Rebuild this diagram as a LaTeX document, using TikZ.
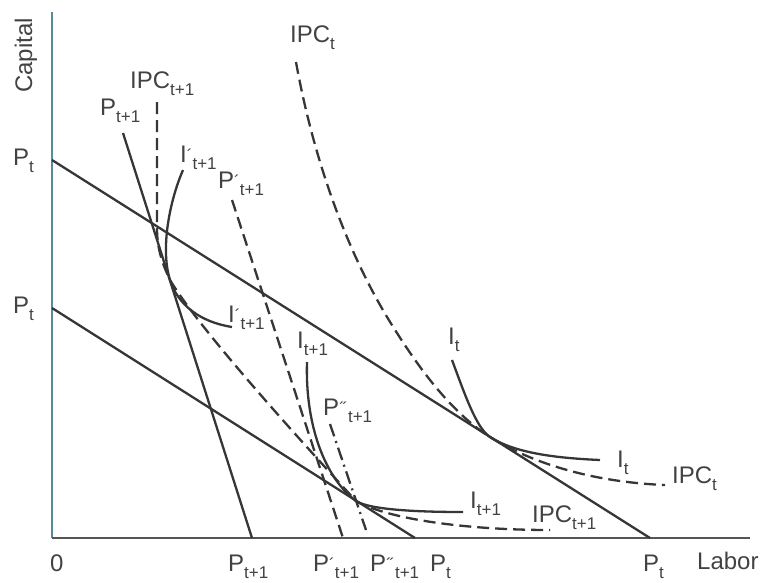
\documentclass[tikz,border=0pt]{standalone}
\usepackage{fontspec}
\setmainfont{Liberation Sans}
\definecolor{ink}{HTML}{363636}
\definecolor{txt}{HTML}{424242}
\definecolor{axisv}{HTML}{5A8C96}
\definecolor{axish}{HTML}{555555}
\newcommand{\mysub}[1]{\raisebox{-7pt}{\fontsize{17}{17}\selectfont #1}}
\newcommand{\myprime}[1]{\raisebox{8pt}{#1}}
\newcommand{\acu}{\char"00B4}
\newcommand{\dacu}{\char"00B4\kern-2.5pt\char"00B4}
\begin{document}
\begin{tikzpicture}[x=1pt,y=-1pt,
  ln/.style={draw=ink, line width=2.3pt},
  dsh/.style={ln, dash pattern=on 12pt off 6pt},
  ddot/.style={ln, dash pattern=on 13pt off 5pt on 2pt off 5pt},
  ax/.style={line width=1.6pt},
  lbl/.style={anchor=base west, inner sep=0pt, text=txt, font=\fontsize{24}{24}\selectfont}]
\useasboundingbox (0,0) rectangle (763,582);
% axes
\coordinate (O) at (52,538);
\coordinate (Ytop) at (52,12);
\coordinate (Xend) at (750,538);
\draw[ax, draw=axisv] (O) -- (Ytop);
\draw[ax, draw=axish] (O) -- (Xend);
% budget lines
\coordinate (A1) at (52,160);
\coordinate (A2) at (650,538);
\coordinate (B1) at (52,308);
\coordinate (B2) at (415,538);
\coordinate (C1) at (123,133);
\coordinate (C2) at (252,538);
\coordinate (D1) at (232,200);
\coordinate (D2) at (343,538);
\coordinate (E1) at (330,424);
\coordinate (E2) at (366,530);
\draw[ln] (A1) -- (A2);
\draw[ln] (B1) -- (B2);
\draw[ln] (C1) -- (C2);
\draw[dsh] (D1) -- (D2);
\draw[ddot] (E1) -- (E2);
% tangency points
\coordinate (T1) at (490,437);
\coordinate (T2) at (356,501);
\coordinate (T3) at (170,280);
% isoquants
\draw[ln] (452,360) .. controls (464,392) and (476,428) .. (T1)
  .. controls (515,453) and (555,458) .. (600,460);
\draw[ln] (307,362) .. controls (305,425) and (325,478) .. (T2)
  .. controls (370,510) and (420,512) .. (463,512);
\draw[ln] (183,170) .. controls (170,200) and (160,248) .. (T3)
  .. controls (178,305) and (200,322) .. (232,327);
% IPC paths
\draw[dsh] (296,62) .. controls (310,140) and (340,245) .. (397,333)
  .. controls (430,385) and (460,418) .. (T1)
  .. controls (530,462) and (590,482) .. (665,485);
\draw[dsh] (157,102) -- (157,228) .. controls (157,250) and (163,265) .. (T3)
  .. controls (200,330) and (300,440) .. (T2)
  .. controls (390,520) and (470,530) .. (550,530);
% labels
\node[lbl, rotate=90] (cap) at (32,93) {Capital};
\node[lbl] (lab) at (697,569) {Labor};
\node[lbl] (zero) at (50,571) {0};
\node[lbl] (ptl1) at (13,165) {P\mysub{t}};
\node[lbl] (ptl2) at (13,313) {P\mysub{t}};
\node[lbl] (ipct1) at (130,88) {IPC\mysub{t+1}};
\node[lbl] (pt1a) at (100,115) {P\mysub{t+1}};
\node[lbl] (ip1a) at (180,162) {I\mysub{\myprime{\acu}t+1}};
\node[lbl] (pp1a) at (218,188) {P\mysub{\myprime{\acu}t+1}};
\node[lbl] (ipcta) at (290,42) {IPC\mysub{t}};
\node[lbl] (ip1b) at (228,322) {I\mysub{\myprime{\acu}t+1}};
\node[lbl] (i1a) at (297,348) {I\mysub{t+1}};
\node[lbl] (ppp1a) at (323,415) {P\mysub{\myprime{\dacu}t+1}};
\node[lbl] (ita) at (448,344) {I\mysub{t}};
\node[lbl] (itb) at (617,467) {I\mysub{t}};
\node[lbl] (ipctb) at (672,483) {IPC\mysub{t}};
\node[lbl] (i1b) at (470,508) {I\mysub{t+1}};
\node[lbl] (ipct1b) at (532,522) {IPC\mysub{t+1}};
\node[lbl] (pt1b) at (228,571) {P\mysub{t+1}};
\node[lbl] (pp1b) at (313,571) {P\mysub{\myprime{\acu}t+1}};
\node[lbl] (ppp1b) at (370,571) {P\mysub{\myprime{\dacu}t+1}};
\node[lbl] (ptb) at (430,571) {P\mysub{t}};
\node[lbl] (ptc) at (643,571) {P\mysub{t}};
\end{tikzpicture}
\end{document}
